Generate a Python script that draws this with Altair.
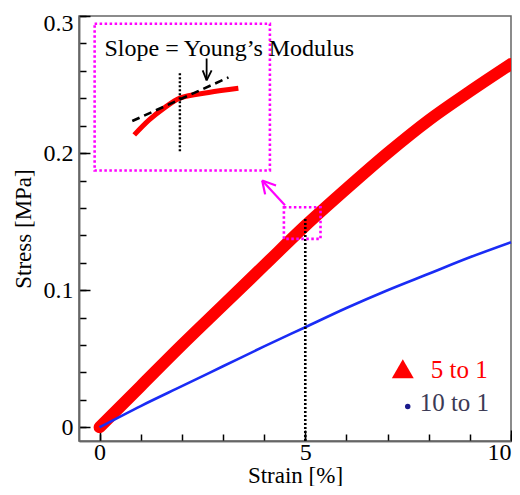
import altair as alt
import pandas as pd

# ---- main data ----
strain = [0, 1, 2, 3, 4, 5, 6, 7, 8, 9, 10]
stress_5to1 = [0, 0.030, 0.060, 0.089, 0.118, 0.147, 0.174, 0.200, 0.224, 0.245, 0.265]
stress_10to1 = [0, 0.0155, 0.030, 0.0445, 0.059, 0.073, 0.087, 0.100, 0.112, 0.124, 0.135]

# ---- axis ticks ----
x_ticks_minor = [0, 1, 2, 3, 4, 5, 6, 7, 8, 9, 10]
x_ticks_major = [0, 5, 10]
y_ticks_minor = [0, 0.02, 0.04, 0.06, 0.08, 0.1, 0.12, 0.14, 0.16, 0.18, 0.2,
                 0.22, 0.24, 0.26, 0.28, 0.3]
y_ticks_major = [0, 0.1, 0.2, 0.3]

# ---- annotations (data coordinates) ----
vline_x = [5]
vline_y = [-0.01]
vline_y2 = [0.153]

inset_box = dict(x=[-0.12], x2=[4.14], y=[0.2943], y2=[0.1873])
zoom_box = dict(x=[4.48], x2=[5.37], y=[0.1605], y2=[0.1374])

inset_curve_x = [0.843, 1.205, 1.566, 1.952, 2.651, 3.373]
inset_curve_y = [0.2133, 0.2242, 0.2328, 0.2401, 0.2442, 0.2473]

tangent_x = [0.795]
tangent_y = [0.2234]
tangent_x2 = [3.133]
tangent_y2 = [0.2552]

inset_vline_x = [1.952]
inset_vline_y = [0.2014]
inset_vline_y2 = [0.2592]

# arrows as segments: x, y -> x2, y2
mag_arrow_x = [4.506, 4.289, 4.024]
mag_arrow_y = [0.1620, 0.1764, 0.1699]
mag_arrow_x2 = [3.952, 3.952, 3.952]
mag_arrow_y2 = [0.180, 0.180, 0.180]

blk_arrow_x = [2.602, 2.506, 2.723]
blk_arrow_y = [0.2690, 0.2603, 0.2603]
blk_arrow_x2 = [2.602, 2.602, 2.602]
blk_arrow_y2 = [0.2531, 0.2531, 0.2531]

slope_text = ["Slope = Young\u2019s Modulus"]
slope_text_x = [0.12]
slope_text_y = [0.2711]

legend_labels = ["5 to 1", "10 to 1"]
legend_text_x = [8.05, 7.78]
legend_text_y = [0.0362, 0.0116]
legend_text_colors = ["#ff0000", "#3c3a55"]
legend_tri_x = [7.37]
legend_tri_y = [0.0427]
legend_dot_x = [7.49]
legend_dot_y = [0.0152]

FONT = "Liberation Serif"

xs = alt.Scale(domain=[-0.5, 10.0], nice=False, zero=False)
ys = alt.Scale(domain=[-0.01, 0.3], nice=False, zero=False)

df5 = pd.DataFrame({"x": strain, "y": stress_5to1})
df10 = pd.DataFrame({"x": strain, "y": stress_10to1})

minor_x_axis = alt.Axis(values=x_ticks_minor, labels=False, title=None,
                        tickSize={"expr": "-7"}, orient="bottom", grid=False)
minor_y_axis = alt.Axis(values=y_ticks_minor, labels=False, title=None,
                        tickSize={"expr": "-7"}, orient="left", grid=False)
major_x_axis = alt.Axis(values=x_ticks_major, title="Strain [%]", format="d",
                        tickSize={"expr": "-11"}, labelPadding=10, labelFlush=True,
                        orient="bottom", grid=False, titlePadding=0)
major_y_axis = alt.Axis(values=y_ticks_major, title="Stress [MPa]", format="~g",
                        tickSize={"expr": "-11"}, labelPadding=17, labelFlush=False,
                        labelOffset={"condition": {"test": "datum.value > 0.25", "value": 7},
                                     "value": 0},
                        orient="left", grid=False, titlePadding=8)

red = alt.Chart(df5).mark_line(color="#ff0000", strokeWidth=12, strokeCap="round",
                               interpolate="monotone", clip=True).encode(
    x=alt.X("x:Q", scale=xs, axis=minor_x_axis),
    y=alt.Y("y:Q", scale=ys, axis=minor_y_axis),
)
blue = alt.Chart(df10).mark_line(color="#1a2cf5", strokeWidth=2.6,
                                 interpolate="monotone").encode(
    x=alt.X("x:Q", scale=xs, axis=major_x_axis),
    y=alt.Y("y:Q", scale=ys, axis=major_y_axis),
)

def X(f):
    return alt.X(f, type="quantitative", scale=xs, axis=None)

def Y(f):
    return alt.Y(f, type="quantitative", scale=ys, axis=None)

vline = alt.Chart(pd.DataFrame({"x": vline_x, "y": vline_y, "y2": vline_y2})).mark_rule(
    color="black", strokeWidth=2.6, strokeDash=[2, 2]).encode(
    x=X("x"), y=Y("y"), y2="y2")

ibox = alt.Chart(pd.DataFrame(inset_box)).mark_rect(
    fill=None, fillOpacity=0, stroke="#ff00ff", strokeWidth=2.6, strokeDash=[2.5, 2.5]).encode(
    x=X("x"), x2="x2", y=Y("y"), y2="y2")
zbox = alt.Chart(pd.DataFrame(zoom_box)).mark_rect(
    fill=None, fillOpacity=0, stroke="#ff00ff", strokeWidth=2.6, strokeDash=[2.5, 2.5]).encode(
    x=X("x"), x2="x2", y=Y("y"), y2="y2")

icurve = alt.Chart(pd.DataFrame({"x": inset_curve_x, "y": inset_curve_y})).mark_line(
    color="#ff0000", strokeWidth=5, interpolate="monotone").encode(x=X("x"), y=Y("y"))

tangent = alt.Chart(pd.DataFrame({"x": tangent_x, "y": tangent_y, "x2": tangent_x2,
                                  "y2": tangent_y2})).mark_rule(
    color="black", strokeWidth=2.6, strokeDash=[8, 5]).encode(
    x=X("x"), y=Y("y"), x2="x2", y2="y2")

ivline = alt.Chart(pd.DataFrame({"x": inset_vline_x, "y": inset_vline_y,
                                 "y2": inset_vline_y2})).mark_rule(
    color="black", strokeWidth=2.4, strokeDash=[2, 2]).encode(
    x=X("x"), y=Y("y"), y2="y2")

mag_arrow = alt.Chart(pd.DataFrame({"x": mag_arrow_x, "y": mag_arrow_y,
                                    "x2": mag_arrow_x2, "y2": mag_arrow_y2})).mark_rule(
    color="#ff00ff", strokeWidth=2.2).encode(
    x=X("x"), y=Y("y"), x2="x2", y2="y2")

blk_arrow = alt.Chart(pd.DataFrame({"x": blk_arrow_x, "y": blk_arrow_y,
                                    "x2": blk_arrow_x2, "y2": blk_arrow_y2})).mark_rule(
    color="black", strokeWidth=1.8).encode(
    x=X("x"), y=Y("y"), x2="x2", y2="y2")

stext = alt.Chart(pd.DataFrame({"x": slope_text_x, "y": slope_text_y,
                                "t": slope_text})).mark_text(
    font=FONT, fontSize=24, align="left", baseline="alphabetic", color="black").encode(
    x=X("x"), y=Y("y"), text="t:N")

ltext = alt.Chart(pd.DataFrame({"x": legend_text_x, "y": legend_text_y,
                                "t": legend_labels, "c": legend_text_colors})).mark_text(
    font=FONT, fontSize=25, align="left", baseline="alphabetic").encode(
    x=X("x"), y=Y("y"), text="t:N", color=alt.Color("c:N", scale=None))

ltri = alt.Chart(pd.DataFrame({"x": legend_tri_x, "y": legend_tri_y})).mark_point(
    shape="triangle-up", filled=True, size=480, color="#ff0000", opacity=1).encode(
    x=X("x"), y=Y("y"))

ldot = alt.Chart(pd.DataFrame({"x": legend_dot_x, "y": legend_dot_y})).mark_point(
    shape="circle", filled=True, size=30, color="#1a1a8c", opacity=1).encode(
    x=X("x"), y=Y("y"))

chart = alt.layer(
    red, blue, vline, ibox, zbox, icurve, tangent, ivline, mag_arrow, blk_arrow,
    stext, ltext, ltri, ldot
).resolve_axis(x="independent", y="independent").properties(
    width=432, height=425,
    autosize=alt.AutoSizeParams(type="none"),
    padding={"left": 71, "top": 8, "right": 1, "bottom": 45},
).configure_view(
    stroke="#666666", strokeWidth=1.5
).configure_axis(
    labelFont=FONT, labelFontSize=24, labelColor="black",
    titleFont=FONT, titleFontSize=23, titleFontWeight="normal", titleColor="black",
    tickColor="black", tickWidth=1.5, domainColor="#666666", domainWidth=1.5,
)

chart.save("out.html", embed_options={"renderer": "svg", "actions": False})
